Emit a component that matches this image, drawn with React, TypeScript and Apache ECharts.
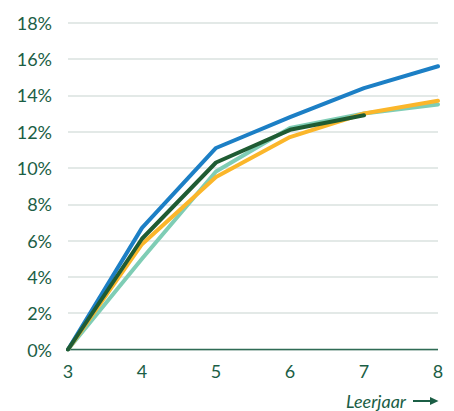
import React, { useEffect, useRef } from "react";
import * as echarts from "echarts";

const years = [3, 4, 5, 6, 7, 8];
const blue = [0, 6.7, 11.1, 12.8, 14.4, 15.6];
const yellow = [0, 5.8, 9.5, 11.7, 13.0, 13.7];
const teal = [0, 5.0, 9.8, 12.2, 13.0, 13.5];
const darkGreen = [0, 6.1, 10.3, 12.1, 12.9];
const yTicks = [0, 2, 4, 6, 8, 10, 12, 14, 16, 18];
const xTitle = "Leerjaar";

const TEXT = "#1b5e45";

function pairs(vals: number[]) {
  return vals.map((v, i) => [years[i], v]);
}

export default function App() {
  const ref = useRef<HTMLDivElement>(null);
  useEffect(() => {
    if (!ref.current) return;
    const chart = echarts.init(ref.current, undefined, { renderer: "svg" });
    const mk = (name: string, vals: number[], color: string, z: number) => ({
      type: "line",
      name,
      data: pairs(vals),
      symbol: "none",
      z,
      lineStyle: { color, width: 4, cap: "round", join: "round" },
    });
    chart.setOption({
      animation: false,
      grid: { left: 68, right: 16, top: 22.7, bottom: 61.5 },
      xAxis: {
        type: "value",
        min: 3,
        max: 8,
        interval: 1,
        axisLine: { show: false },
        axisTick: { show: false },
        splitLine: { show: false },
        axisLabel: {
          color: TEXT,
          fontSize: 18,
          fontFamily: "Lato",
          margin: 12,
        },
      },
      yAxis: {
        type: "value",
        min: yTicks[0],
        max: yTicks[yTicks.length - 1],
        interval: 2,
        axisLine: { show: false },
        axisTick: { show: false },
        splitLine: { lineStyle: { color: "#e3e9e7", width: 2 } },
        axisLabel: {
          color: TEXT,
          fontSize: 18,
          fontFamily: "Lato",
          margin: 16,
          formatter: (v: number) => `${v}%`,
        },
      },
      graphic: [
        {
          type: "line",
          shape: { x1: 66, y1: 349.5, x2: 438, y2: 349.5 },
          style: { stroke: "#2f6b55", lineWidth: 1.5 },
          z: 1,
        },
        {
          type: "text",
          x: 406,
          y: 401,
          style: {
            text: xTitle,
            fill: TEXT,
            fontSize: 18,
            fontStyle: "italic",
            fontFamily: "Lato",
            align: "right",
            verticalAlign: "middle",
          },
        },
        {
          type: "line",
          shape: { x1: 413, y1: 401, x2: 432, y2: 401 },
          style: { stroke: TEXT, lineWidth: 2 },
        },
        {
          type: "polygon",
          shape: { points: [[430, 397], [438.5, 401], [430, 405]] },
          style: { fill: TEXT },
        },
      ],
      series: [
        mk("teal", teal, "#7fcdb5", 2),
        mk("yellow", yellow, "#fbb62a", 3),
        mk("blue", blue, "#1c7fc5", 4),
        mk("darkGreen", darkGreen, "#1f5c33", 5),
      ],
    });
    return () => chart.dispose();
  }, []);
  return <div ref={ref} style={{ width: 454, height: 411, position: "absolute", left: 0, top: 0 }} />;
}
